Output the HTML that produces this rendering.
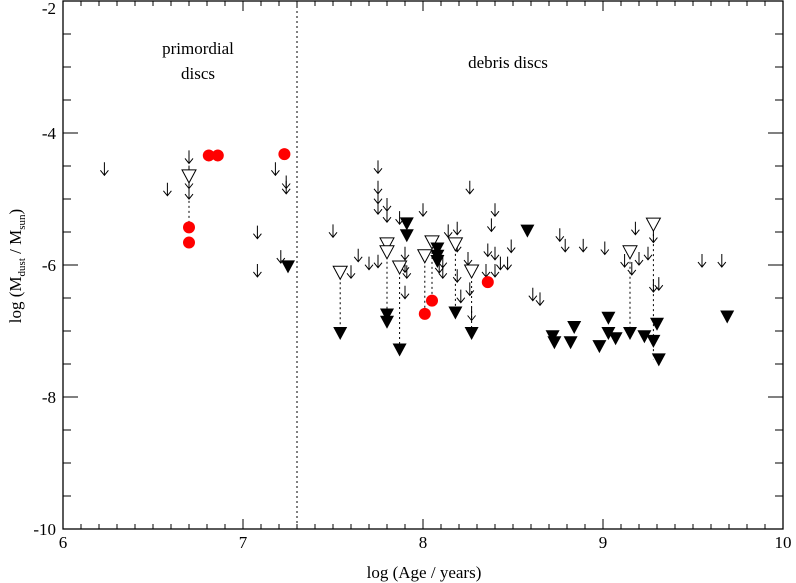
<!DOCTYPE html>
<html><head><meta charset="utf-8"><style>
html,body{margin:0;padding:0;background:#fff;width:796px;height:583px;overflow:hidden}
svg text{font-family:"Liberation Serif",serif;fill:#000}
</style></head><body>
<svg id="chart" width="796" height="583" viewBox="0 0 796 583" xmlns="http://www.w3.org/2000/svg">
<g id="axes"></g>
<g id="marks"></g>
<text x="198" y="54" font-size="17" text-anchor="middle">primordial</text>
<text x="198" y="79" font-size="17" text-anchor="middle">discs</text>
<text x="508" y="68" font-size="17" text-anchor="middle">debris discs</text>
<text x="424" y="578" font-size="17" text-anchor="middle">log (Age / years)</text>
<text transform="translate(21,266) rotate(-90)" font-size="17" text-anchor="middle">log (M<tspan font-size="11" dy="4">dust</tspan><tspan dy="-4"> / M</tspan><tspan font-size="11" dy="4">sun</tspan><tspan dy="-4">)</tspan></text>
</svg>
<script>
const xTicks=[6,7,8,9,10];
const yTicks=[-2,-4,-6,-8,-10];
const arrowX=[6.23,6.58,6.70,6.70,6.70,6.70,7.08,7.08,7.18,7.24,7.24,7.21,
7.75,7.75,7.75,7.75,7.80,7.80,7.87,8.00,8.26,8.40,8.38,7.50,7.64,7.70,7.75,7.60,7.90,7.90,7.91,7.90,8.11,8.11,8.09,8.14,8.19,8.19,8.19,8.21,8.25,8.26,8.27,8.36,8.40,8.43,8.40,8.49,8.47,8.35,8.61,8.65,
8.76,8.79,8.89,9.01,9.18,9.12,9.16,9.20,9.25,9.28,9.28,9.31,9.55,9.66];
const arrowY=[-4.55,-4.86,-4.37,-4.60,-4.75,-4.91,-5.51,-6.09,-4.55,-4.75,-4.83,-5.88,
-4.52,-4.83,-4.98,-5.14,-5.09,-5.26,-5.29,-5.17,-4.83,-5.17,-5.40,-5.49,-5.86,-5.98,-5.95,-6.11,-5.83,-6.02,-6.11,-6.42,-5.95,-6.11,-6.03,-5.49,-5.45,-5.71,-6.17,-6.48,-5.91,-6.37,-6.75,-5.78,-5.83,-5.98,-6.09,-5.72,-5.98,-6.09,-6.45,-6.52,
-5.55,-5.71,-5.71,-5.75,-5.45,-5.94,-6.06,-5.91,-5.83,-5.57,-6.32,-6.29,-5.94,-5.94];
const openX=[6.70,7.54,7.80,7.80,7.87,8.01,8.05,8.18,8.27,9.15,9.28];
const openY=[-4.65,-6.11,-5.68,-5.80,-6.03,-5.86,-5.65,-5.68,-6.09,-5.80,-5.38];
const filledX=[7.25,7.91,7.91,8.08,8.08,8.08,7.80,7.80,7.54,7.87,8.18,8.27,8.58,8.72,8.73,8.82,8.84,8.98,9.03,9.03,9.07,9.15,9.23,9.28,9.30,9.31,9.69];
const filledY=[-6.02,-5.37,-5.55,-5.75,-5.86,-5.94,-6.75,-6.86,-7.03,-7.28,-6.72,-7.03,-5.48,-7.08,-7.17,-7.17,-6.94,-7.23,-6.80,-7.03,-7.11,-7.03,-7.08,-7.15,-6.89,-7.43,-6.78];
const redX=[6.70,6.70,6.81,6.86,7.23,8.01,8.05,8.36];
const redY=[-5.43,-5.66,-4.34,-4.34,-4.32,-6.74,-6.54,-6.26];
const linkX=[6.70,7.54,7.80,7.87,8.01,8.05,8.18,8.27,9.15,9.28];
const linkTop=[-4.65,-6.11,-5.80,-6.03,-5.86,-5.65,-5.68,-6.09,-5.80,-5.38];
const linkBot=[-5.43,-7.03,-6.86,-7.28,-6.74,-6.54,-6.72,-7.03,-7.03,-7.43];
const dividerAge=7.3;

const L=63,R=783,T=1,B=529;
const X=v=>L+(v-6)*(R-L)/4;
const Y=v=>T+(-2-v)*(B-T)/8;
const NS="http://www.w3.org/2000/svg";
function mk(tag,attrs,parent){const e=document.createElementNS(NS,tag);for(const k in attrs)e.setAttribute(k,attrs[k]);parent.appendChild(e);return e;}
const ax=document.getElementById('axes'),mg=document.getElementById('marks');
let f=mk('rect',{x:L,y:T,width:R-L,height:B-T,fill:'none',stroke:'#000','stroke-width':1.3},ax);


for(let i=0;i<=40;i++){const v=6+i*0.1;const maj=i%10===0;const len=maj?10:5;
 mk('line',{x1:X(v),x2:X(v),y1:B,y2:B-len,stroke:'#000'},ax);mk('line',{x1:X(v),x2:X(v),y1:T,y2:T+len,stroke:'#000'},ax);}
for(let i=0;i<=16;i++){const v=-2-i*0.5;const maj=i%4===0;const len=maj?15:8;
 mk('line',{x1:L,x2:L+len,y1:Y(v),y2:Y(v),stroke:'#000'},ax);mk('line',{x1:R,x2:R-len,y1:Y(v),y2:Y(v),stroke:'#000'},ax);}
xTicks.forEach(v=>{const t=mk('text',{x:X(v),y:548,'font-size':17,'text-anchor':'middle'},ax);t.textContent=v;
 
 });
yTicks.forEach(v=>{const t=mk('text',{x:56,y:Math.max(Y(v)+6,14),'font-size':17,'text-anchor':'end'},ax);t.textContent=v;
 
 });
let d=mk('line',{x1:X(dividerAge),x2:X(dividerAge),y1:T,y2:B,stroke:'#000','stroke-dasharray':'2,3'},ax);


linkX.forEach((x,i)=>{const l=mk('line',{x1:X(x),x2:X(x),y1:Y(linkTop[i]),y2:Y(linkBot[i]),stroke:'#000','stroke-dasharray':'2,3'},mg);
 
 });
arrowX.forEach((x,i)=>{const px=X(x),py=Y(arrowY[i]);
 const p=mk('path',{d:`M${px},${py-7}V${py+6}M${px-4},${py+1}L${px},${py+6}L${px+4},${py+1}`,fill:'none',stroke:'#000','stroke-width':1},mg);
 
 });
openX.forEach((x,i)=>{const px=X(x),py=Y(openY[i]);
 const p=mk('path',{d:`M${px-7},${py-6}H${px+7}L${px},${py+7}Z`,fill:'#fff',stroke:'#000','stroke-width':1},mg);
 
 });
filledX.forEach((x,i)=>{const px=X(x),py=Y(filledY[i]);
 const p=mk('path',{d:`M${px-7},${py-6}H${px+7}L${px},${py+7}Z`,fill:'#000'},mg);
 
 });
redX.forEach((x,i)=>{const c=mk('circle',{cx:X(x),cy:Y(redY[i]),r:6,fill:'#f00'},mg);
 
 });
</script>
</body></html>
